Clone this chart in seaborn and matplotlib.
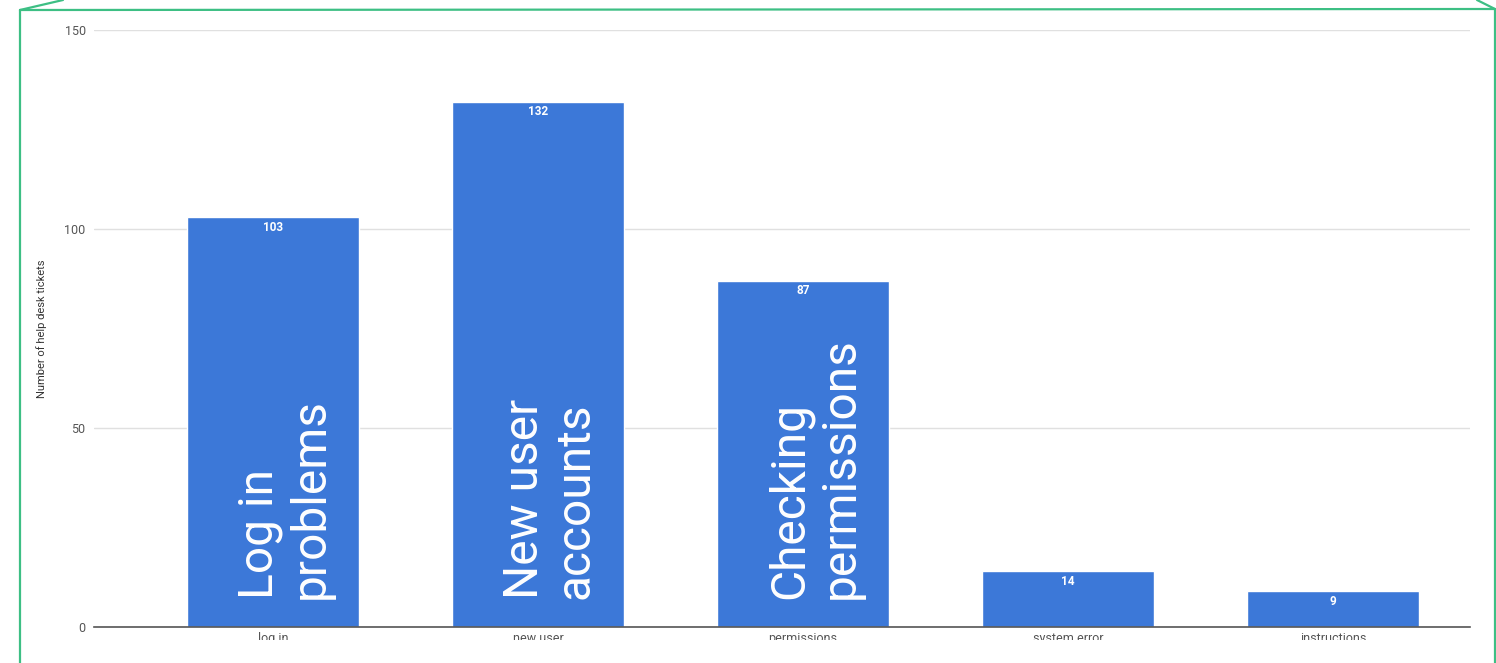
import matplotlib
matplotlib.use("Agg")
import matplotlib.pyplot as plt
from matplotlib.lines import Line2D
from matplotlib.patches import Rectangle
import seaborn as sns
import pandas as pd

categories = ["log in", "new user", "permissions", "system error", "instructions"]
tickets = [103, 132, 87, 14, 9]
annotations = ["Log in\nproblems", "New user\naccounts", "Checking\npermissions", "", ""]
y_ticks = [0, 50, 100, 150]
y_label = "Number of help desk tickets"

W, H = 1496, 663
sns.set_theme(style="white")
plt.rcParams['font.family'] = ['Roboto', 'DejaVu Sans']

fig = plt.figure(figsize=(W / 100, H / 100), dpi=100)
fig.patch.set_facecolor("white")

def fx(px):
    return px / W

def fy(py):
    return 1 - py / H

ax = fig.add_axes([fx(94), fy(627), fx(1470) - fx(94), fy(30) - fy(627)])
df = pd.DataFrame({"category": categories, "tickets": tickets})
sns.barplot(data=df, x="category", y="tickets", color="#3c78d8", saturation=1,
            width=0.65, ax=ax, zorder=3)

ax.set_xlim(-0.675, 4.517)
ax.set_ylim(0, 150)
ax.set_yticks(y_ticks)
ax.set_yticklabels([str(t) for t in y_ticks])
ax.yaxis.grid(True, color="#e0e0e0", linewidth=1, zorder=0)
ax.set_axisbelow(True)
for s in ["top", "right", "left"]:
    ax.spines[s].set_visible(False)
ax.spines["bottom"].set_color("#555555")
ax.spines["bottom"].set_linewidth(1.2)
ax.spines["bottom"].set_zorder(4)
ax.tick_params(axis="both", length=0, labelsize=9, labelcolor="#555555")
ax.tick_params(axis="y", pad=6)
ax.tick_params(axis="x", pad=3.5)
ax.set_xlabel("")
ax.set_ylabel(y_label, fontsize=8, color="#333333")
ax.yaxis.set_label_coords(-0.034, 0.5)

ax.bar_label(ax.containers[0], labels=[str(v) for v in tickets], padding=-12,
             color="white", fontsize=8.5, fontweight="bold", zorder=5)

for i, txt in enumerate(annotations):
    if txt:
        ax.text(i + 0.047, 7, txt, rotation=90, ha="center", va="bottom",
                multialignment="left", color="white", fontsize=34.5,
                linespacing=1.12, zorder=6)

# white cover cutting the x labels
fig.add_artist(Rectangle((fx(21), 0), fx(1494) - fx(21), fy(640), transform=fig.transFigure,
                         facecolor="white", edgecolor="none", zorder=10))

green = "#3dbf84"
lw = 1.6
segs = [
    [(20, 10), (20, 663)],
    [(20, 10), (1495, 9)],
    [(1495, 9), (1495, 663)],
    [(20, 10), (63, 0)],
    [(1477, 0), (1495, 9)],
]
for (x0, y0), (x1, y1) in segs:
    fig.add_artist(Line2D([fx(x0), fx(x1)], [fy(y0), fy(y1)], transform=fig.transFigure,
                          color=green, linewidth=lw, zorder=11))

fig.savefig("out.png", dpi=100, facecolor="white")
